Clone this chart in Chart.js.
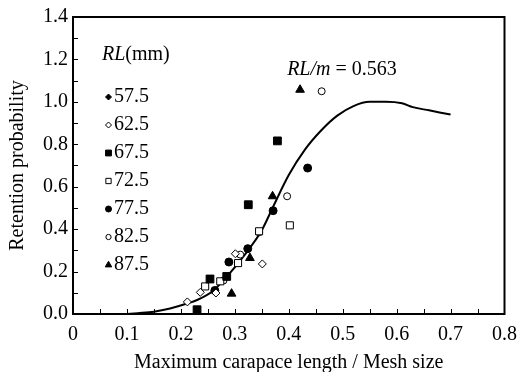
<!DOCTYPE html>
<html>
<head>
<meta charset="utf-8">
<script src="https://cdn.jsdelivr.net/npm/chart.js@4.4.1/dist/chart.umd.min.js"></script>
<style>
  html, body { margin: 0; padding: 0; background: #fff; }
</style>
</head>
<body>
<canvas id="chart" width="526" height="372"></canvas>
<script>
const FONT = "'Liberation Serif', 'Times New Roman', serif";

// legend labels (RL, mm)
const sizeLabels = ["57.5", "62.5", "67.5", "72.5", "77.5", "82.5", "87.5"];

// observed retention, x = carapace length / mesh size
const rl575 = [];
const rl625 = [
  { x: 0.212, y: 0.057 }, { x: 0.236, y: 0.102 }, { x: 0.265, y: 0.099 },
  { x: 0.301, y: 0.284 }, { x: 0.351, y: 0.236 },
];
const rl675 = [
  { x: 0.230, y: 0.020 }, { x: 0.254, y: 0.165 }, { x: 0.285, y: 0.177 },
  { x: 0.325, y: 0.515 }, { x: 0.379, y: 0.816 },
];
const rl725 = [
  { x: 0.245, y: 0.130 }, { x: 0.273, y: 0.154 }, { x: 0.306, y: 0.240 },
  { x: 0.345, y: 0.390 }, { x: 0.402, y: 0.418 },
];
const rl775 = [
  { x: 0.263, y: 0.111 }, { x: 0.289, y: 0.245 }, { x: 0.324, y: 0.308 },
  { x: 0.371, y: 0.487 }, { x: 0.435, y: 0.688 },
];
const rl825 = [
  { x: 0.279, y: 0.158 }, { x: 0.310, y: 0.280 }, { x: 0.345, y: 0.385 },
  { x: 0.397, y: 0.555 }, { x: 0.461, y: 1.050 },
];
const rl875 = [
  { x: 0.294, y: 0.096 }, { x: 0.328, y: 0.264 }, { x: 0.370, y: 0.555 },
  { x: 0.421, y: 1.057 },
];

// fitted master curve
const curveX = [0.10, 0.12, 0.15, 0.18, 0.21, 0.23, 0.26, 0.29, 0.32, 0.35, 0.37,
  0.40, 0.43, 0.46, 0.49, 0.52, 0.55, 0.58, 0.61, 0.63, 0.66, 0.70];
const curveY = [0.0, 0.004, 0.011, 0.026, 0.048, 0.066, 0.110, 0.190, 0.285, 0.395, 0.500,
  0.655, 0.775, 0.865, 0.935, 0.980, 1.0, 1.0, 0.993, 0.975, 0.960, 0.940];

const xTickStep = 0.1;
const yTickStep = 0.2;

// marker styles per RL class
const markers = [
  { style: "rectRot", fill: "#000", r: 4 },
  { style: "rectRot", fill: "#fff", r: 4 },
  { style: "rect", fill: "#000", r: 5.5 },
  { style: "rect", fill: "#fff", r: 5 },
  { style: "circle", fill: "#000", r: 4 },
  { style: "circle", fill: "#fff", r: 3.5 },
  { style: "triangle", fill: "#000", r: 5 },
];
const series = [rl575, rl625, rl675, rl725, rl775, rl825, rl875];

const datasets = series.map((pts, i) => ({
  type: "scatter",
  label: sizeLabels[i],
  data: pts,
  pointStyle: markers[i].style,
  pointRadius: markers[i].r,
  pointBackgroundColor: markers[i].fill,
  pointBorderColor: "#000",
  pointBorderWidth: 1,
}));

datasets.push({
  type: "line",
  label: "fit",
  data: curveX.map((x, i) => ({ x: x, y: curveY[i] })),
  borderColor: "#000",
  borderWidth: 2,
  pointRadius: 0,
  fill: false,
  cubicInterpolationMode: "monotone",
});

// frame, inner tick marks, legend and annotation
const decor = {
  id: "decor",
  afterDraw(chart) {
    const { ctx, chartArea: a, scales: { x, y } } = chart;
    ctx.save();
    ctx.strokeStyle = "#000";
    ctx.lineWidth = 1;
    ctx.beginPath();
    for (let i = 1; i < 16; i++) {
      const px = Math.round(x.getPixelForValue(i * 0.05)) + 0.5;
      ctx.moveTo(px, a.bottom);
      ctx.lineTo(px, a.bottom - 5);
    }
    for (let i = 1; i < 14; i++) {
      const py = Math.round(y.getPixelForValue(i * 0.1)) + 0.5;
      ctx.moveTo(a.left, py);
      ctx.lineTo(a.left + 5, py);
    }
    ctx.stroke();
    ctx.lineWidth = 2;
    ctx.strokeRect(a.left, a.top, a.width, a.height);

    // legend
    ctx.fillStyle = "#000";
    ctx.textBaseline = "middle";
    ctx.textAlign = "left";
    ctx.font = "italic 20px " + FONT;
    ctx.fillText("RL", 102, 55);
    let w = ctx.measureText("RL").width;
    ctx.font = "20px " + FONT;
    ctx.fillText("(mm)", 102 + w, 55);

    sizeLabels.forEach((lab, i) => {
      const yy = 97 + i * 28;
      const m = markers[i];
      ctx.fillStyle = m.fill;
      ctx.strokeStyle = "#000";
      ctx.lineWidth = 1;
      Chart.helpers.drawPoint(ctx, {
        pointStyle: m.style, rotation: 0, radius: m.r * 0.75, borderWidth: 1,
      }, 108.5, yy);
      ctx.fillStyle = "#000";
      ctx.fillText(lab, 114, yy);
    });

    // RL/m annotation
    const ax = x.getPixelForValue(0.397);
    const ay = y.getPixelForValue(1.152);
    ctx.font = "italic 20px " + FONT;
    ctx.fillText("RL/m", ax, ay);
    w = ctx.measureText("RL/m").width;
    ctx.font = "20px " + FONT;
    ctx.fillText(" = 0.563", ax + w, ay);
    ctx.restore();
  },
};

new Chart(document.getElementById("chart"), {
  data: { datasets: datasets },
  options: {
    responsive: false,
    animation: false,
    devicePixelRatio: 1,
    layout: { padding: { top: 17, right: 13, left: 0, bottom: 0 } },
    plugins: { legend: { display: false }, tooltip: { enabled: false } },
    scales: {
      x: {
        type: "linear",
        min: 0,
        max: 0.8,
        afterFit: (s) => { s.height = 58; },
        grid: { display: false, drawTicks: false },
        border: { display: false },
        ticks: {
          stepSize: xTickStep,
          color: "#000",
          padding: 9,
          maxRotation: 0,
          autoSkip: false,
          font: { family: FONT, size: 20 },
          callback: (v) => (v === 0 ? "0" : v.toFixed(1)),
        },
        title: {
          display: true,
          text: "Maximum carapace length / Mesh size",
          color: "#000",
          font: { family: FONT, size: 20 },
          padding: { top: 0, bottom: -3 },
        },
      },
      y: {
        type: "linear",
        min: 0,
        max: 1.4,
        afterFit: (s) => { s.width = 73; },
        grid: { display: false, drawTicks: false },
        border: { display: false },
        ticks: {
          stepSize: yTickStep,
          color: "#000",
          padding: 5,
          font: { family: FONT, size: 20 },
          callback: (v) => v.toFixed(1),
        },
        title: {
          display: true,
          text: "Retention probability",
          color: "#000",
          font: { family: FONT, size: 20 },
          padding: { top: 6, bottom: 0 },
        },
      },
    },
  },
  plugins: [decor],
});
</script>
</body>
</html>
